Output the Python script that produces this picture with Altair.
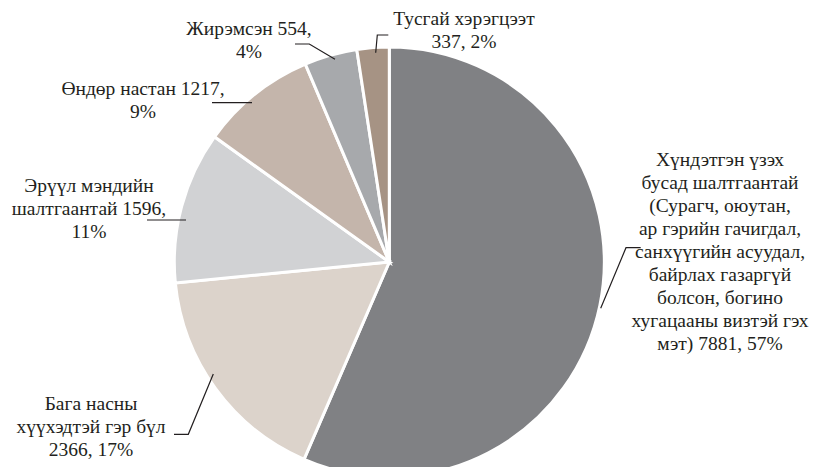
import altair as alt
import pandas as pd

# ---- data ----
categories = [
    "Хүндэтгэн үзэх бусад шалтгаантай",
    "Бага насны хүүхэдтэй гэр бүл",
    "Эрүүл мэндийн шалтгаантай",
    "Өндөр настан",
    "Жирэмсэн",
    "Тусгай хэрэгцээт",
]
values = [7881, 2366, 1596, 1217, 554, 337]
percents = [57, 17, 11, 9, 4, 2]
label_templates = [
    ["Хүндэтгэн үзэх", "бусад шалтгаантай", "(Сурагч, оюутан,", "ар гэрийн гачигдал,",
     "санхүүгийн асуудал,", "байрлах газаргүй", "болсон, богино",
     "хугацааны визтэй гэх", "мэт) {v}, {p}%"],
    ["Бага насны", "хүүхэдтэй гэр бүл", "{v}, {p}%"],
    ["Эрүүл мэндийн", "шалтгаантай {v},", "{p}%"],
    ["Өндөр настан {v},", "{p}%"],
    ["Жирэмсэн {v},", "{p}%"],
    ["Тусгай хэрэгцээт", "{v}, {p}%"],
]

# ---- style / layout ----
colors = ["#808184", "#dcd3cb", "#d1d2d4", "#c4b5ab", "#a7a9ac", "#a69384"]
W, H = 817, 459
CX, CY, R = 381.3, 254.0, 215
LINE_H = 23
label_pos = [(712, 152), (83, 396), (81, 178), (135, 81), (241, 20.5), (456, 11)]
leaders = [
    [(592.7, 300.3), (618, 239.7), (632.7, 239.7)],
    [(205.3, 366), (180.3, 426.3), (166, 426.3)],
    [(139, 212), (178, 212)],
    [(204, 94.7), (244, 94.7)],
    [(287, 36), (301.3, 36), (327, 51.3)],
    [(367.7, 44.7), (369.3, 27), (380.3, 27)],
]
TEXT_COLOR = "#231f20"
FONT = "Liberation Serif"

pie_df = pd.DataFrame({"cat": categories, "value": values, "idx": list(range(len(values)))})

text_rows = []
for i, lines in enumerate(label_templates):
    x0, y0 = label_pos[i]
    for j, t in enumerate(lines):
        text_rows.append({"x": x0, "y": y0 + j * LINE_H,
                          "text": t.format(v=values[i], p=percents[i])})
text_df = pd.DataFrame(text_rows)

line_rows = []
for i, pts in enumerate(leaders):
    for k, (x, y) in enumerate(pts):
        line_rows.append({"grp": i, "k": k, "x": x, "y": y})
line_df = pd.DataFrame(line_rows)

pie = alt.Chart(pie_df).mark_arc(outerRadius=R, stroke="white", strokeWidth=3).encode(
    theta=alt.Theta("value:Q", stack=True),
    color=alt.Color("cat:N", scale=alt.Scale(domain=categories, range=colors), legend=None),
    order=alt.Order("idx:Q"),
    x=alt.value(CX),
    y=alt.value(CY),
)

labels = alt.Chart(text_df).mark_text(
    font=FONT, fontSize=19.5, color=TEXT_COLOR, align="center", baseline="middle"
).encode(
    x=alt.X("x:Q", scale=None, axis=None),
    y=alt.Y("y:Q", scale=None, axis=None),
    text="text:N",
)

lines = alt.Chart(line_df).mark_line(color=TEXT_COLOR, strokeWidth=1.2).encode(
    x=alt.X("x:Q", scale=None, axis=None),
    y=alt.Y("y:Q", scale=None, axis=None),
    detail="grp:N",
    order="k:Q",
)

chart = alt.layer(pie, lines, labels).properties(
    width=W, height=H, autosize=alt.AutoSizeParams(type="none"), padding=0
).configure_view(stroke=None)

chart.save("out.html", embed_options={"renderer": "svg", "actions": False})
